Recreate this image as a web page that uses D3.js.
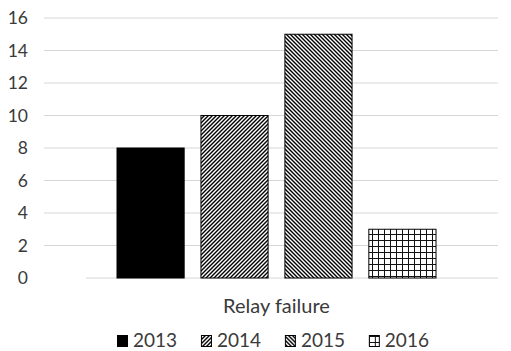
<!DOCTYPE html>
<html><head><meta charset="utf-8">
<script src="https://cdn.jsdelivr.net/npm/d3@7"></script>
<style>body{margin:0;background:#fff}svg{display:block}</style>
</head><body>
<script>
const category = "Relay failure";
const years = ["2013", "2014", "2015", "2016"];
const values = [8, 10, 15, 3];
const yTicks = [0, 2, 4, 6, 8, 10, 12, 14, 16];

const W = 511, H = 351;
const svg = d3.select("body").append("svg").attr("width", W).attr("height", H);
const font = "Lato, 'Open Sans', sans-serif";
const textColor = "#3a3a3a";

const defs = svg.append("defs");
function stripe(id, dir) {
  const p = defs.append("pattern").attr("id", id).attr("patternUnits", "userSpaceOnUse")
    .attr("width", 4).attr("height", 4);
  p.append("rect").attr("width", 4).attr("height", 4).attr("fill", "#fff");
  if (dir > 0) {
    p.append("path").attr("d", "M-1,1 l2,-2 M0,4 l4,-4 M3,5 l2,-2").attr("stroke", "#000").attr("stroke-width", 1.4);
  } else {
    p.append("path").attr("d", "M-1,3 l2,2 M0,0 l4,4 M3,-1 l2,2").attr("stroke", "#000").attr("stroke-width", 1.4);
  }
}
stripe("p2014", 1);
stripe("p2015", -1);
const g6 = defs.append("pattern").attr("id", "p2016").attr("patternUnits", "userSpaceOnUse")
  .attr("width", 6).attr("height", 6);
g6.append("rect").attr("width", 6).attr("height", 6).attr("fill", "#fff");
g6.append("path").attr("d", "M0.5,0 V6 M0,0.5 H6").attr("stroke", "#111").attr("stroke-width", 1);
const fills = {"2013": "#000", "2014": "url(#p2014)", "2015": "url(#p2015)", "2016": "url(#p2016)"};

const y = d3.scaleLinear().domain([0, 16]).range([278, 18]);
const x = d3.scaleBand().domain(years).range([117, 436]).paddingInner(0.2).paddingOuter(0);

const yAxis = d3.axisLeft(y).tickValues(yTicks).tickSize(0).tickPadding(0).tickFormat(d3.format("d"));
const ga = svg.append("g").attr("transform", "translate(28,0)").call(yAxis);
ga.select(".domain").remove();
ga.selectAll("text").attr("font-family", font).attr("font-size", 17.5).attr("fill", textColor);

svg.append("g").selectAll("line").data(yTicks.filter(d => d > 0)).join("line")
  .attr("x1", 44).attr("x2", 498).attr("y1", d => y(d)).attr("y2", d => y(d))
  .attr("stroke", "#d6d6d6").attr("stroke-width", 1);
svg.append("line").attr("x1", 86).attr("x2", 498).attr("y1", y(0)).attr("y2", y(0))
  .attr("stroke", "#d6d6d6").attr("stroke-width", 1);

svg.append("g").selectAll("rect").data(years).join("rect")
  .attr("x", d => x(d)).attr("width", x.bandwidth())
  .attr("y", (d, i) => y(values[i])).attr("height", (d, i) => y(0) - y(values[i]))
  .attr("fill", d => fills[d]).attr("stroke", "#000").attr("stroke-width", 1);

svg.append("text").attr("x", (x.range()[0] + x.range()[1]) / 2).attr("y", 313)
  .attr("text-anchor", "middle").attr("font-family", font).attr("font-size", 20)
  .attr("fill", textColor).text(category);

const lg = svg.append("g").selectAll("g").data(years).join("g")
  .attr("transform", d => `translate(${x(d)},0)`);
lg.append("rect").attr("x", 0.5).attr("y", 335.5).attr("width", 10).attr("height", 11)
  .attr("fill", d => fills[d]).attr("stroke", "#000").attr("stroke-width", 1);
lg.append("text").attr("x", 16).attr("y", 347).attr("font-family", font).attr("font-size", 19)
  .attr("fill", textColor).text(d => d);
</script>
</body></html>
